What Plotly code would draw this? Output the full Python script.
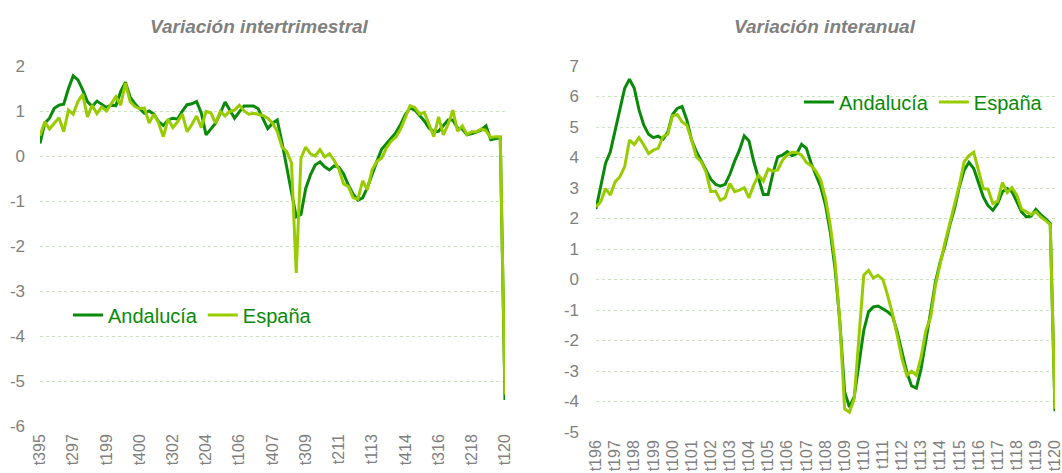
import plotly.graph_objects as go

# ---------------- Data ----------------
# Left panel: quarterly change (Q3 1995 .. Q1 2020)
left_start = (1995, 3)
left_end = (2020, 1)
andalucia_qoq = [
    0.28, 0.73, 0.84, 1.06, 1.13, 1.15, 1.50, 1.78, 1.69, 1.47,
    1.21, 1.10, 1.22, 1.15, 1.08, 1.13, 1.12, 1.43, 1.64, 1.31,
    1.16, 1.05, 0.95, 1.00, 0.93, 0.76, 0.68, 0.80, 0.84, 0.82,
    1.00, 1.14, 1.16, 1.21, 0.95, 0.47, 0.60, 0.73, 0.95, 1.20,
    1.02, 0.84, 0.98, 1.11, 1.11, 1.11, 1.05, 0.84, 0.61, 0.73,
    0.80, 0.30, -0.27, -0.80, -1.35, -1.30, -0.72, -0.42, -0.20, -0.13,
    -0.24, -0.31, -0.22, -0.25, -0.40, -0.65, -0.85, -0.98, -0.93, -0.70,
    -0.40, -0.12, 0.15, 0.27, 0.38, 0.52, 0.70, 0.92, 1.07, 1.02,
    0.90, 0.78, 0.62, 0.54, 0.55, 0.68, 0.80, 0.80, 0.62, 0.60,
    0.47, 0.50, 0.53, 0.58, 0.67, 0.36, 0.39, 0.41, -5.42,
]
espana_qoq = [
    0.45, 0.76, 0.60, 0.73, 0.85, 0.54, 1.02, 0.93, 1.21, 1.37,
    0.87, 1.13, 0.94, 1.09, 1.00, 1.16, 1.32, 1.13, 1.62, 1.21,
    1.10, 1.05, 1.07, 0.73, 0.93, 0.73, 0.43, 0.82, 0.63, 0.76,
    0.93, 0.54, 0.70, 0.89, 0.63, 0.99, 0.96, 0.73, 0.99, 0.89,
    0.99, 1.02, 1.13, 1.00, 0.93, 0.95, 0.92, 0.90, 0.84, 0.73,
    0.55, 0.20, 0.10, -0.15, -2.60, -0.05, 0.20, 0.05, 0.00, 0.14,
    -0.02, 0.05, -0.10, -0.30, -0.62, -0.68, -0.93, -0.96, -0.55, -0.75,
    -0.30, -0.12, -0.05, 0.18, 0.33, 0.42, 0.60, 0.85, 1.12, 1.08,
    0.93, 0.97, 0.70, 0.43, 0.87, 0.47, 0.70, 1.02, 0.55, 0.67,
    0.48, 0.54, 0.54, 0.60, 0.56, 0.41, 0.43, 0.43, -5.30,
]
left_ticks = ["t395", "t297", "t199", "t400", "t302", "t204", "t106", "t407",
              "t309", "t211", "t113", "t414", "t316", "t218", "t120"]
left_yvals = [2, 1, 0, -1, -2, -3, -4, -5, -6]
left_ylabels = ["2", "1", "0", "-1", "-2", "-3", "-4", "-5", "-6"]

# Right panel: year-on-year change (Q1 1996 .. Q1 2020)
right_start = (1996, 1)
right_end = (2020, 1)
andalucia_yoy = [
    2.31, 3.09, 3.81, 4.19, 4.85, 5.56, 6.27, 6.57, 6.27, 5.56,
    5.06, 4.76, 4.65, 4.70, 4.60, 4.82, 5.41, 5.61, 5.67, 5.23,
    4.57, 4.19, 3.88, 3.59, 3.29, 3.12, 3.06, 3.12, 3.45, 3.88,
    4.24, 4.71, 4.54, 3.86, 3.31, 2.79, 2.79, 3.48, 4.02, 4.08,
    4.19, 4.06, 4.13, 4.43, 4.30, 3.81, 3.42, 3.04, 2.44, 1.56,
    0.36, -1.39, -3.69, -4.18, -3.85, -2.70, -1.67, -1.06, -0.90, -0.87,
    -0.97, -1.06, -1.19, -1.72, -2.38, -3.03, -3.49, -3.56, -2.92, -2.05,
    -1.06, -0.08, 0.58, 1.12, 1.78, 2.33, 3.04, 3.59, 3.84, 3.64,
    3.20, 2.71, 2.42, 2.27, 2.49, 2.88, 2.98, 2.88, 2.55, 2.22,
    2.05, 2.08, 2.30, 2.13, 2.00, 1.84, -4.32,
]
espana_yoy = [
    2.38, 2.55, 2.98, 2.77, 3.20, 3.37, 3.70, 4.57, 4.43, 4.65,
    4.41, 4.13, 4.24, 4.30, 4.68, 4.76, 5.37, 5.41, 5.17, 5.06,
    4.57, 4.02, 3.86, 3.53, 2.88, 2.90, 2.60, 2.68, 3.15, 2.88,
    2.93, 3.01, 2.68, 3.10, 3.42, 3.23, 3.62, 3.55, 3.59, 3.91,
    4.08, 4.17, 4.16, 4.08, 3.84, 3.73, 3.55, 3.26, 2.66, 1.78,
    0.58, -1.39, -4.24, -4.35, -3.91, -2.00, 0.14, 0.30, 0.05, 0.14,
    0.00, -0.52, -1.12, -1.83, -2.60, -3.14, -3.01, -3.14, -2.54, -1.67,
    -1.23, -0.19, 0.58, 1.23, 1.84, 2.44, 3.10, 3.86, 4.06, 4.17,
    3.59, 2.98, 2.96, 2.49, 2.57, 3.18, 2.85, 3.01, 2.77, 2.31,
    2.22, 2.13, 2.22, 2.05, 1.94, 1.80, -4.24,
]
right_ticks = ["t196", "t197", "t198", "t199", "t100", "t101", "t102", "t103",
               "t104", "t105", "t106", "t107", "t108", "t109", "t110", "t111",
               "t112", "t113", "t114", "t115", "t116", "t117", "t118", "t119",
               "t120"]
right_yvals = [7, 6, 5, 4, 3, 2, 1, 0, -1, -2, -3, -4, -5]
right_ylabels = ["7", "6", "5", "4", "3", "2", "1", "0", "-1", "-2", "-3", "-4", "-5"]

series_names = ["Andalucía", "España"]
titles = ["Variación intertrimestral", "Variación interanual"]


def quarter_labels(start, end):
    y, q = start
    out = []
    while (y, q) <= end:
        out.append(f"t{q}{y % 100:02d}")
        q += 1
        if q > 4:
            q = 1
            y += 1
    return out


left_cats = quarter_labels(left_start, left_end)
right_cats = quarter_labels(right_start, right_end)

# ---------------- Style ----------------
DARK = "#0a8a0a"
LIGHT = "#99cc00"
GRID = "#c9e3c0"
TICK = "#808080"
FONT = "Liberation Sans, Arial, sans-serif"
W, H = 1062, 473


def px(x):
    return x / W


def py(y):
    return 1 - y / H


fig = go.Figure()
fig.add_trace(go.Scatter(x=left_cats, y=andalucia_qoq, name=series_names[0], mode="lines",
                         line=dict(color=DARK, width=3), xaxis="x", yaxis="y", legend="legend"))
fig.add_trace(go.Scatter(x=left_cats, y=espana_qoq, name=series_names[1], mode="lines",
                         line=dict(color=LIGHT, width=3), xaxis="x", yaxis="y", legend="legend"))
fig.add_trace(go.Scatter(x=right_cats, y=andalucia_yoy, name=series_names[0], mode="lines",
                         line=dict(color=DARK, width=3), xaxis="x2", yaxis="y2", legend="legend2"))
fig.add_trace(go.Scatter(x=right_cats, y=espana_yoy, name=series_names[1], mode="lines",
                         line=dict(color=LIGHT, width=3), xaxis="x2", yaxis="y2", legend="legend2"))

xcommon = dict(type="category", showgrid=False, zeroline=False, showline=False, ticks="",
               tickangle=-90, tickfont=dict(family=FONT, size=16, color=TICK), automargin=False,
               ticklabeloverflow="allow")
ycommon = dict(showgrid=True, gridcolor=GRID, griddash="dot", gridwidth=1, zeroline=False,
               showline=False, ticks="", tickfont=dict(family=FONT, size=17, color=TICK),
               automargin=False, tickmode="array")

fig.update_layout(
    width=W, height=H,
    margin=dict(l=0, r=0, t=0, b=0),
    paper_bgcolor="white", plot_bgcolor="white",
    font=dict(family=FONT),
    xaxis=dict(xcommon, domain=[px(40), px(505)], anchor="y",
               range=[0, len(left_cats) - 1], tickmode="array",
               tickvals=left_ticks, ticktext=left_ticks, ticklabelstandoff=4),
    yaxis=dict(ycommon, domain=[py(426), py(66)], anchor="x", range=[-6, 2],
               tickvals=left_yvals, ticktext=left_ylabels, ticklabelstandoff=14),
    xaxis2=dict(xcommon, domain=[px(596), px(1055)], anchor="y2",
                range=[0, len(right_cats) - 1], tickmode="array",
                tickvals=right_ticks, ticktext=right_ticks, ticklabelstandoff=4),
    yaxis2=dict(ycommon, domain=[py(432), py(66)], anchor="x2", range=[-5, 7],
                tickvals=right_yvals, ticktext=right_ylabels, ticklabelstandoff=16),
    legend=dict(orientation="h", x=px(68), y=py(315), xanchor="left", yanchor="middle",
                font=dict(family=FONT, size=20, color=DARK), bgcolor="rgba(0,0,0,0)",
                itemwidth=30, tracegroupgap=0),
    legend2=dict(orientation="h", x=px(799), y=py(102), xanchor="left", yanchor="middle",
                 font=dict(family=FONT, size=20, color=DARK), bgcolor="rgba(0,0,0,0)",
                 itemwidth=30, tracegroupgap=0),
    showlegend=True,
    annotations=[
        dict(text=f"<b><i>{titles[0]}</i></b>", x=px(259), y=py(27), xref="paper", yref="paper",
             xanchor="center", yanchor="middle", showarrow=False,
             font=dict(family=FONT, size=19, color=TICK)),
        dict(text=f"<b><i>{titles[1]}</i></b>", x=px(825), y=py(27), xref="paper", yref="paper",
             xanchor="center", yanchor="middle", showarrow=False,
             font=dict(family=FONT, size=19, color=TICK)),
    ],
)

# remove the browser's default 8px body margin so the figure sits at the page origin
fig.write_html("out.html", config={"displayModeBar": False},
               post_script="document.body.style.margin='0';")
